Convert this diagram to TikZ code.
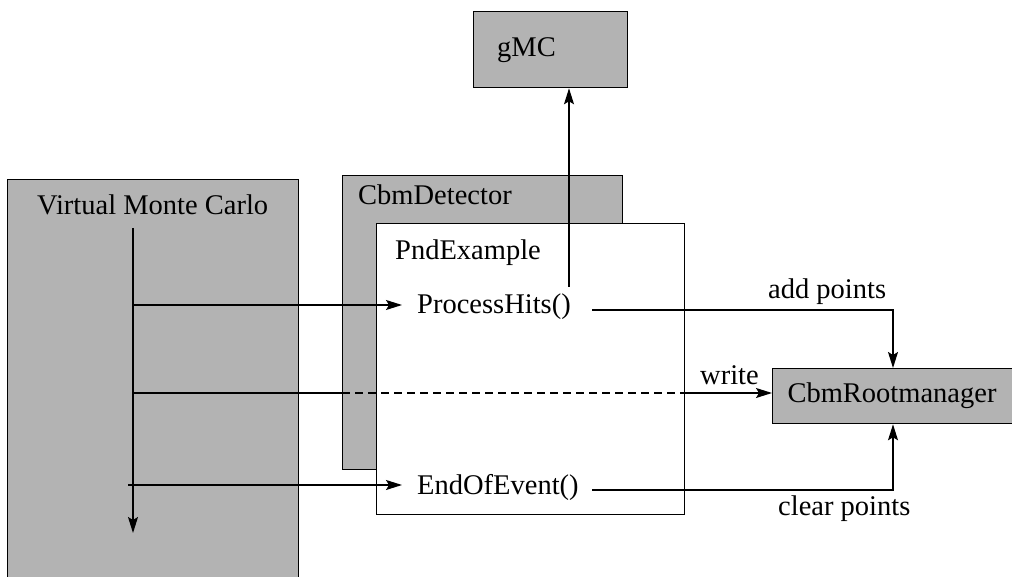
\documentclass[tikz,border=0pt]{standalone}
\usepackage{fontspec}
\setmainfont{Liberation Serif}
\usetikzlibrary{arrows.meta}
\definecolor{boxgray}{RGB}{179,179,179}
\tikzset{
  graybox/.style={draw=black, fill=boxgray, line width=1.3pt, inner sep=0pt, anchor=north west},
  whitebox/.style={draw=black, fill=white, line width=1.3pt, inner sep=0pt, anchor=north west},
  lbl/.style={inner sep=0pt, font=\fontsize{28.5}{32}\selectfont},
  conn/.style={line width=1.3pt},
  arr/.style={line width=1.3pt, -{Stealth[length=16pt,width=10pt,inset=3pt]}},
}
\begin{document}
\begin{tikzpicture}[x=1pt,y=-1pt]
\useasboundingbox (0,0) rectangle (1012,577);
\clip (0,0) rectangle (1012,577);
\fill[white] (0,0) rectangle (1012,577);
% boxes
\node[graybox, minimum width=291pt, minimum height=420pt] (vmc) at (7,179) {};
\node[lbl, anchor=west] (vmclbl) at (37,205) {Virtual Monte Carlo};
\node[graybox, minimum width=280pt, minimum height=294pt] (cbmdet) at (342,175) {};
\node[lbl, anchor=west] (cbmdetlbl) at (358,195) {CbmDetector};
\node[whitebox, minimum width=308pt, minimum height=291pt] (pnd) at (376,223) {};
\node[lbl, anchor=west] (pndlbl) at (395,253) {PndExample};
\node[graybox, minimum width=154pt, minimum height=76pt] (gmc) at (473,11) {};
\node[lbl, anchor=west] (gmclbl) at (497,50) {gMC};
\node[graybox, minimum width=240pt, minimum height=55pt] (rm) at (772,368) {};
\node[lbl] (rmlbl) at (892,396) {CbmRootmanager};
% methods
\node[lbl, anchor=west] (ph) at (417,307) {ProcessHits()};
\node[lbl, anchor=west] (eoe) at (417,487) {EndOfEvent()};
% labels
\node[lbl, anchor=west] (addlbl) at (768,292) {add points};
\node[lbl, anchor=west] (writelbl) at (700,375) {write};
\node[lbl, anchor=west] (clearlbl) at (778,509) {clear points};
% coordinates
\coordinate (vtop) at (133,228);
\coordinate (vbot) at (133,533);
\coordinate (c1) at (133,305);
\coordinate (c2) at (133,393);
\coordinate (c3) at (128,485);
\coordinate (phin) at (402,305);
\coordinate (eoein) at (402,485);
\coordinate (phup) at (569,287);
\coordinate (phout) at (592,310);
\coordinate (eoeout) at (592,490);
\coordinate (rmx) at (893,0);
% connectors
\draw[arr] (vtop) -- (vbot);
\draw[arr] (c1) -- (phin);
\draw[arr] (c3) -- (eoein);
\draw[conn] (c2) -- (c2 -| cbmdet.west);
\draw[conn, dash pattern=on 8pt off 5pt] (c2 -| cbmdet.west) -- (c2 -| pnd.east);
\draw[arr] (c2 -| pnd.east) -- (c2 -| rm.west);
\draw[arr] (phup) -- (phup |- gmc.south);
\draw[arr] (phout) -- (phout -| rmx) -- (rmx |- rm.north);
\draw[arr] (eoeout) -- (eoeout -| rmx) -- (rmx |- rm.south);
\end{tikzpicture}
\end{document}
